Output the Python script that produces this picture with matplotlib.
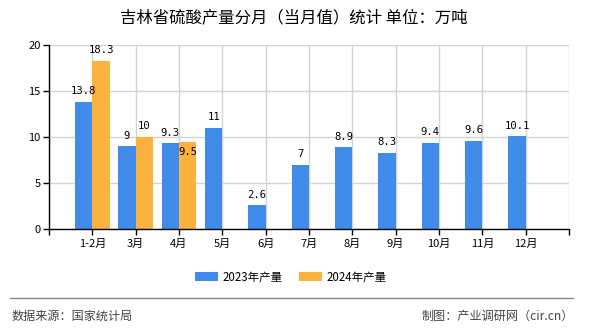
import matplotlib
matplotlib.use('Agg')
import numpy as np
import matplotlib.pyplot as plt
from matplotlib.lines import Line2D

plt.rcParams['font.family'] = ['Noto Sans CJK SC', 'DejaVu Sans']

# --- 数据 ---
months = ['1-2月', '3月', '4月', '5月', '6月', '7月', '8月', '9月', '10月', '11月', '12月']
prod_2023 = [13.8, 9, 9.3, 11, 2.6, 7, 8.9, 8.3, 9.4, 9.6, 10.1]
prod_2024 = [18.3, 10, 9.5]

BLUE = '#418BEB'
ORANGE = '#FBB23F'
W = 0.4
LBL = dict(ha='center', va='bottom', fontsize=7.6, family='DejaVu Sans Mono', zorder=5)

fig = plt.figure(figsize=(5.9, 3.3), dpi=100)
ax = fig.add_axes([49 / 590, 1 - 229 / 330, 520 / 590, 184 / 330])

x = np.arange(1, len(months) + 1)
x24 = x[:len(prod_2024)]
b1 = ax.bar(x - W / 2, prod_2023, W, color=BLUE, zorder=3)
b2 = ax.bar(x24 + W / 2, prod_2024, W, color=ORANGE, zorder=3)

for xi, v in zip(x - W / 2, prod_2023):
    ax.annotate(f'{v:g}', (xi, v), xytext=(0, 4), textcoords='offset points', **LBL)
for i, (xi, v) in enumerate(zip(x24 + W / 2, prod_2024)):
    # 4月 的标签与左侧标签重叠, 原图中被压到柱内
    off = (0, -11) if i == 2 else (0, 4)
    ax.annotate(f'{v:g}', (xi, v), xytext=off, textcoords='offset points', **LBL)

ax.set_xlim(0, 12)
ax.set_ylim(0, 20)
ax.set_xticks(np.arange(0, 13))
ax.set_xticklabels([''] + months + [''], fontsize=8)
ax.set_yticks([0, 5, 10, 15, 20])
ax.tick_params(axis='y', labelsize=8, length=4, width=1, pad=2)
ax.tick_params(axis='x', length=4, width=1, pad=3)
ax.grid(True, color='#d4d4d4', lw=1, zorder=0)
for s in ['top', 'right']:
    ax.spines[s].set_visible(False)
for s in ['left', 'bottom']:
    ax.spines[s].set_color('black')
    ax.spines[s].set_linewidth(1)
    ax.spines[s].set_zorder(4)

fig.text(294 / 590, 1 - 18 / 330, '吉林省硫酸产量分月（当月值）统计 单位：万吨',
         ha='center', va='center', fontsize=11.8)

fig.legend([b1, b2], ['2023年产量', '2024年产量'], loc='center',
           bbox_to_anchor=(291 / 590, 1 - 277 / 330), ncol=2, frameon=False,
           fontsize=8.3, handlelength=2.0, handleheight=0.9, columnspacing=1.4,
           handletextpad=0.4)

fig.add_artist(Line2D([10 / 590, 573 / 590], [1 - 298 / 330] * 2, color='#888888', lw=1))
fig.text(12 / 590, 1 - 316 / 330, '数据来源：国家统计局', ha='left', va='center',
         fontsize=8.7, color='#444444')
fig.text(574 / 590, 1 - 316 / 330, '制图：产业调研网（cir.cn）', ha='right', va='center',
         fontsize=8.7, color='#444444')

fig.savefig('out.png', dpi=100)
